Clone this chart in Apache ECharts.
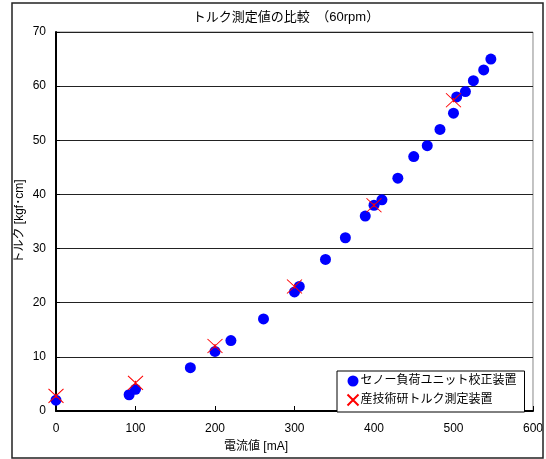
<!DOCTYPE html>
<html><head><meta charset="utf-8">
<script src="https://cdn.jsdelivr.net/npm/echarts@6/dist/echarts.min.js"></script>
<style>html,body{margin:0;padding:0;background:#fff}#c{width:546px;height:459px}</style>
</head><body><div id="c"></div>
<script>
const titleText = 'トルク測定値の比較　（60rpm）';
const xName = '電流値 [mA]';
const yName = 'トルク [kgf･cm]';
const series1Name = 'セノー負荷ユニット校正装置';
const series2Name = '産技術研トルク測定装置';
const s1x = [0, 92, 100, 169, 200, 220, 261, 300, 306, 339, 364, 389, 400, 410, 430, 450, 467, 483, 500, 504, 515, 525, 538, 547];
const s1y = [2, 3, 4, 8, 11, 13, 17, 22, 23, 28, 32, 36, 38, 39, 43, 47, 49, 52, 55, 58, 59, 61, 63, 65];
const s2x = [0, 100, 200, 300, 400, 500];
const s2y = [2.8, 5.2, 12, 23, 38, 57.4];

const FONT = '"Liberation Sans","Noto Sans CJK JP",sans-serif';
const chart = echarts.init(document.getElementById('c'), null, {renderer: 'canvas'});
chart.setOption({
  animation: false,
  backgroundColor: '#fff',
  textStyle: {fontFamily: FONT},
  title: {
    text: titleText, left: 281, top: 6, textAlign: 'center',
    textStyle: {fontSize: 13, fontWeight: 'normal', color: '#000', fontFamily: FONT}
  },
  graphic: [{
    type: 'rect', shape: {x: 12, y: 3, width: 531, height: 455},
    style: {fill: 'none', stroke: '#222', lineWidth: 1.5}, silent: true, z: 100
  }],
  grid: {left: 56, top: 32, right: 13, bottom: 48, show: true, borderColor: '#888', borderWidth: 1, backgroundColor: '#fff'},
  legend: {
    orient: 'vertical', left: 337, top: 371, width: 175,
    padding: [4, 8, 4, 8], itemGap: 5, itemWidth: 11, itemHeight: 11,
    backgroundColor: '#fff', borderColor: '#000', borderWidth: 1,
    textStyle: {fontSize: 12, color: '#000', fontFamily: FONT, padding: [0, 0, 0, -3]},
    data: [series1Name, series2Name]
  },
  xAxis: {
    type: 'value', min: 0, max: 600, interval: 100,
    name: xName, nameLocation: 'middle', nameGap: 30, nameMoveOverlap: false,
    nameTextStyle: {fontSize: 12, color: '#000', fontFamily: FONT, padding: [0, 77, 0, 0]},
    axisLine: {show: true, onZero: false, lineStyle: {color: '#000', width: 2}},
    axisTick: {show: true, inside: true, length: 5, lineStyle: {color: '#000'}},
    axisLabel: {fontSize: 12, color: '#000', margin: 12, fontFamily: FONT},
    splitLine: {show: false}
  },
  yAxis: {
    type: 'value', min: 0, max: 70, interval: 10,
    name: yName, nameLocation: 'middle', nameGap: 36, nameRotate: 90, nameMoveOverlap: false,
    nameTextStyle: {fontSize: 12, color: '#000', fontFamily: FONT, verticalAlign: 'middle'},
    axisLine: {show: true, onZero: false, lineStyle: {color: '#000', width: 2}},
    axisTick: {show: true, inside: true, length: 4, lineStyle: {color: '#000'}},
    axisLabel: {fontSize: 12, color: '#000', margin: 10, fontFamily: FONT},
    splitLine: {show: true, lineStyle: {color: '#222', width: 1}}
  },
  series: [{
    name: series1Name, type: 'scatter', symbol: 'circle', symbolSize: 11,
    itemStyle: {color: '#0000ff', opacity: 1},
    data: s1x.map((x, i) => [x, s1y[i]]), z: 2
  }, {
    name: series2Name, type: 'scatter',
    symbol: 'path://M0,0L10,10M10,0L0,10M5,3.5L5,6.5', symbolSize: [15, 14],
    itemStyle: {color: 'none', borderColor: '#ff0000', borderWidth: 1, opacity: 1},
    data: s2x.map((x, i) => [x, s2y[i]]), z: 3
  }]
});
</script></body></html>
